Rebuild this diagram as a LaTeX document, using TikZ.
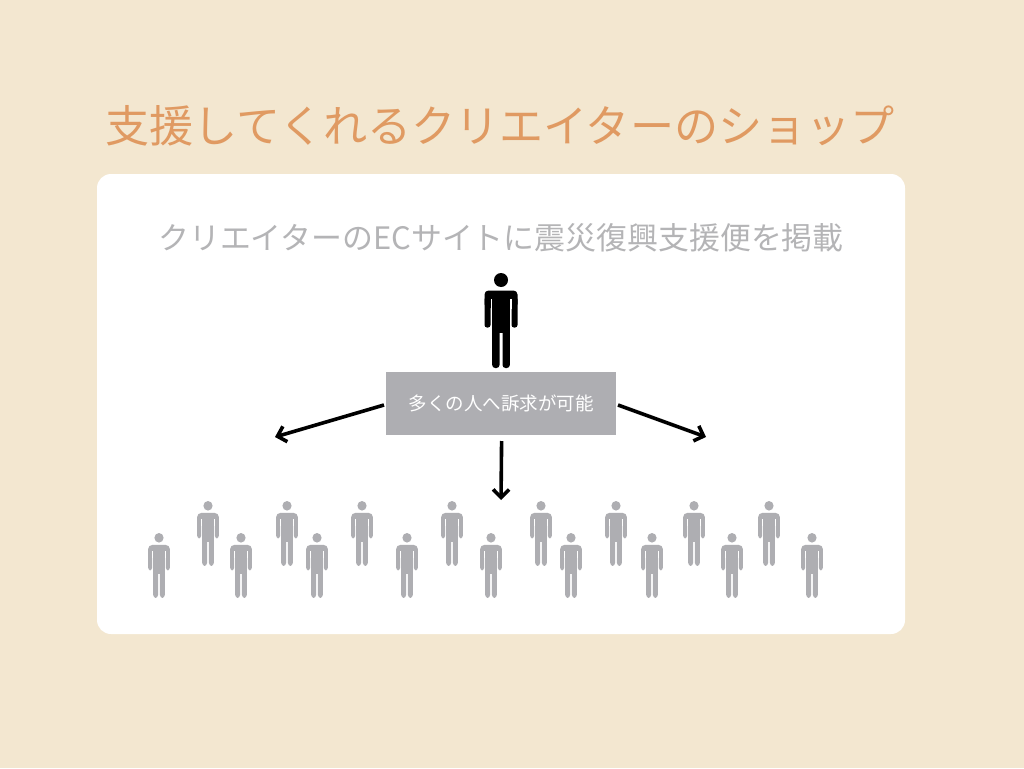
\documentclass[tikz,border=0pt]{standalone}
\usepackage{fontspec}
\setmainfont{Noto Sans CJK JP}
\usetikzlibrary{arrows.meta}
\definecolor{bgc}{HTML}{F3E7D0}
\definecolor{titlec}{HTML}{E09A62}
\definecolor{grayc}{HTML}{AEAEB2}
\definecolor{subc}{HTML}{B4B4B6}
\tikzset{
  x=1pt,y=-1pt,
  person/.pic={
    \fill[pic actions] (0,7) circle[radius=7];
    \fill[pic actions,rounded corners=4] (-16.5,35) -- (-16.5,17.5) -- (16.5,17.5) -- (16.5,35) -- cycle;
    \fill[pic actions] (-8.8,24) rectangle (8.8,60);
    \fill[pic actions,rounded corners=2.5] (-16.5,24) rectangle (-10.5,54.5);
    \fill[pic actions,rounded corners=2.5] (10.5,24) rectangle (16.5,54.5);
    \fill[white] (-10.5,26) rectangle (-8.8,36);
    \fill[white] (8.8,26) rectangle (10.5,36);
    \fill[pic actions,rounded corners=3] (1.5,50) -- (8.8,50) -- (8.8,95) -- (1.5,95) -- cycle;
    \fill[pic actions,rounded corners=3] (-1.5,50) -- (-8.8,50) -- (-8.8,95) -- (-1.5,95) -- cycle;
  },
  titletext/.style={text=titlec,font=\fontsize{44.1}{50}\selectfont,inner sep=0},
  subtext/.style={text=subc,font=\fontsize{30.9}{36}\selectfont,inner sep=0},
  boxnode/.style={fill=grayc,text=white,font=\fontsize{18.5}{22}\selectfont,minimum width=230pt,minimum height=63pt,inner sep=0},
  arrowline/.style={line width=3.6pt,-{Straight Barb[length=8pt,width=16pt,line width=3.6pt]}},
  smallperson/.style={fill=grayc,xscale=0.655,yscale=0.684},
}
\begin{document}
\begin{tikzpicture}
\useasboundingbox (0,0) rectangle (1024,768);
\fill[bgc] (0,0) rectangle (1024,768);
\fill[white,rounded corners=14] (97,174) rectangle (905,634);
\node[titletext] (title) at (500,126) {支援してくれるクリエイターのショップ};
\node[subtext] (sub) at (501,238) {クリエイターのECサイトに震災復興支援便を掲載};
\pic[fill=black] at (501,273) {person};
\node[boxnode] (box) at (501,403.5) {多くの人へ訴求が可能};
\coordinate (al) at (275,437);
\coordinate (ar) at (706,437);
\coordinate (ad) at (501,500);
\coordinate (sl) at (384,405);
\coordinate (sr) at (618,405);
\coordinate (sd) at (501.6,441);
\draw[arrowline] (sl) -- (al);
\draw[arrowline] (sr) -- (ar);
\draw[arrowline] (sd) -- (ad);
\foreach \px in {159,241,317,407,491,571,652,732,812}
  \pic[smallperson] at (\px,533) {person};
\foreach \px in {208,287,362,452,541,616,694,769}
  \pic[smallperson] at (\px,501) {person};
\end{tikzpicture}
\end{document}
